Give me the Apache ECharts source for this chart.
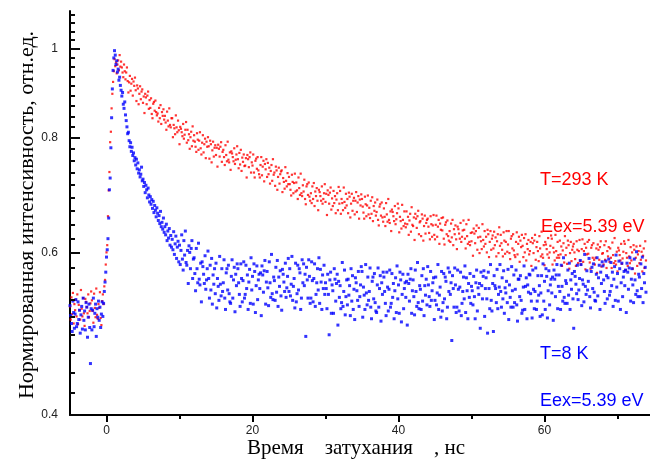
<!DOCTYPE html>
<html>
<head>
<meta charset="utf-8">
<script src="https://cdn.jsdelivr.net/npm/echarts@6/dist/echarts.min.js"></script>
<style>
  html, body { margin: 0; padding: 0; background: #fff; }
  #chart { width: 650px; height: 461px; }
</style>
</head>
<body>
<div id="chart"></div>
<script>
// Sampling grid of the decay curves (ns)
const t0 = -5.0;
const dt = 0.1;

// T = 293 K, normalized intensity (one row per nanosecond)
const redVals = [
  .525,.508,.537,.515,.543,.503,.528,.520,.534,.512,
  .541,.502,.527,.520,.508,.547,.522,.512,.536,.516,
  .500,.535,.531,.524,.516,.541,.511,.519,.529,.545,
  .533,.519,.504,.542,.523,.511,.549,.514,.509,.528,
  .523,.544,.510,.501,.532,.541,.528,.552,.561,.583,
  .601,.612,.658,.702,.735,.792,.813,.862,.894,.921,
  .946,.975,.958,.967,.941,.962,.972,.948,.985,.957,
  .969,.955,.943,.932,.962,.946,.927,.943,.955,.923,
  .897,.920,.935,.901,.917,.928,.890,.922,.912,.931,
  .902,.878,.913,.906,.871,.894,.911,.882,.899,.904,
  .874,.888,.852,.894,.886,.871,.890,.899,.861,.880,
  .863,.884,.850,.841,.872,.876,.857,.879,.854,.847,
  .851,.834,.863,.841,.869,.829,.854,.846,.860,.838,
  .846,.832,.817,.855,.836,.824,.862,.827,.822,.841,
  .841,.802,.827,.820,.808,.847,.822,.812,.836,.816,
  .788,.823,.819,.812,.804,.829,.799,.807,.817,.833,
  .791,.817,.796,.808,.779,.802,.813,.784,.824,.795,
  .806,.793,.783,.773,.810,.797,.777,.795,.812,.780,
  .768,.791,.806,.772,.788,.799,.761,.793,.783,.802,
  .784,.760,.795,.788,.753,.776,.793,.764,.781,.786,
  .767,.781,.745,.787,.779,.764,.783,.792,.754,.773,
  .777,.763,.748,.786,.767,.755,.793,.758,.753,.772,
  .739,.774,.770,.763,.755,.780,.750,.758,.768,.784,
  .759,.742,.771,.749,.777,.737,.762,.754,.768,.746,
  .747,.761,.725,.767,.759,.744,.763,.772,.734,.753,
  .747,.768,.734,.725,.756,.760,.741,.763,.738,.731,
  .725,.748,.763,.729,.745,.756,.718,.750,.740,.759,
  .726,.752,.731,.743,.714,.737,.748,.719,.759,.730,
  .734,.710,.745,.738,.703,.726,.743,.714,.731,.736,
  .738,.699,.724,.717,.705,.744,.719,.709,.733,.713,
  .726,.713,.703,.693,.730,.717,.697,.715,.732,.700,
  .716,.702,.687,.725,.706,.694,.732,.697,.692,.711,
  .700,.721,.687,.678,.709,.713,.694,.716,.691,.684,
  .697,.680,.709,.687,.715,.675,.700,.692,.706,.684,
  .668,.703,.699,.692,.684,.709,.679,.687,.697,.713,
  .682,.696,.660,.702,.694,.679,.698,.707,.669,.688,
  .675,.701,.680,.692,.663,.686,.697,.668,.708,.679,
  .701,.662,.687,.680,.668,.707,.682,.672,.696,.676,
  .687,.663,.698,.691,.656,.679,.696,.667,.684,.689,
  .661,.684,.699,.665,.681,.692,.654,.686,.676,.695,
  .687,.674,.664,.654,.691,.678,.658,.676,.693,.661,
  .672,.655,.684,.662,.690,.650,.675,.667,.681,.659,
  .665,.686,.652,.643,.674,.678,.659,.681,.656,.649,
  .671,.657,.642,.680,.661,.649,.687,.652,.647,.666,
  .634,.669,.665,.658,.650,.675,.645,.653,.663,.679,
  .671,.632,.657,.650,.638,.677,.652,.642,.666,.646,
  .640,.666,.645,.657,.628,.651,.662,.633,.673,.644,
  .642,.656,.620,.662,.654,.639,.658,.667,.629,.648,
  .650,.626,.661,.654,.619,.642,.659,.630,.647,.652,
  .654,.641,.631,.621,.658,.645,.625,.643,.660,.628,
  .621,.644,.659,.625,.641,.652,.614,.646,.636,.655,
  .635,.656,.622,.613,.644,.648,.629,.651,.626,.619,
  .634,.617,.646,.624,.652,.612,.637,.629,.643,.621,
  .606,.641,.637,.630,.622,.647,.617,.625,.635,.651,
  .636,.622,.607,.645,.626,.614,.652,.617,.612,.631,
  .618,.632,.596,.638,.630,.615,.634,.643,.605,.624,
  .639,.600,.625,.618,.606,.645,.620,.610,.634,.614,
  .625,.601,.636,.629,.594,.617,.634,.605,.622,.627,
  .607,.633,.612,.624,.595,.618,.629,.600,.640,.611,
  .628,.615,.605,.595,.632,.619,.599,.617,.634,.602,
  .613,.634,.600,.591,.622,.626,.607,.629,.604,.597,
  .594,.617,.632,.598,.614,.625,.587,.619,.609,.628,
  .611,.594,.623,.601,.629,.589,.614,.606,.620,.598,
  .603,.617,.581,.623,.615,.600,.619,.628,.590,.609,
  .617,.603,.588,.626,.607,.595,.633,.598,.593,.612,
  .582,.617,.613,.606,.598,.623,.593,.601,.611,.627,
  .622,.583,.608,.601,.589,.628,.603,.593,.617,.597,
  .593,.619,.598,.610,.581,.604,.615,.586,.626,.597,
  .608,.584,.619,.612,.577,.600,.617,.588,.605,.610,
  .614,.601,.591,.581,.618,.605,.585,.603,.620,.588,
  .583,.606,.621,.587,.603,.614,.576,.608,.598,.617,
  .599,.620,.586,.577,.608,.612,.593,.615,.590,.583,
  .593,.607,.571,.613,.605,.590,.609,.618,.580,.599,
  .600,.583,.612,.590,.618,.578,.603,.595,.609,.587,
  .607,.593,.578,.616,.597,.585,.623,.588,.583,.602,
  .573,.608,.604,.597,.589,.614,.584,.592,.602,.618,
  .614,.575,.600,.593,.581,.620,.595,.585,.609,.589,
  .601,.577,.612,.605,.570,.593,.610,.581,.598,.603,
  .585,.611,.590,.602,.573,.596,.607,.578,.618,.589
];

// T = 8 K, normalized intensity (one row per nanosecond)
const blueVals = [
  .526,.513,.503,.493,.532,.517,.497,.515,.534,.499,
  .503,.531,.508,.520,.491,.514,.525,.496,.536,.507,
  .519,.495,.530,.524,.486,.511,.528,.498,.455,.522,
  .495,.520,.536,.499,.516,.528,.487,.522,.511,.532,
  .507,.524,.498,.515,.531,.512,.529,.545,.558,.572,
  .594,.605,.622,.655,.703,.724,.781,.842,.905,.948,
  .978,.996,.985,.962,.971,.944,.951,.925,.932,.913,
  .902,.889,.897,.871,.862,.876,.848,.836,.823,.809,
  .812,.795,.783,.791,.774,.782,.766,.771,.756,.762,
  .748,.759,.741,.752,.733,.739,.726,.731,.744,.719,
  .722,.709,.716,.698,.711,.703,.689,.706,.694,.682,
  .691,.678,.686,.671,.683,.664,.676,.668,.657,.672,
  .663,.651,.659,.646,.666,.641,.648,.637,.655,.632,
  .641,.628,.645,.619,.634,.623,.638,.612,.627,.609,
  .621,.605,.633,.598,.614,.626,.592,.609,.618,.587,
  .612,.583,.604,.628,.591,.575,.619,.597,.634,.586,
  .582,.604,.556,.611,.601,.577,.607,.619,.563,.591,
  .593,.570,.546,.607,.577,.557,.615,.562,.554,.585,
  .531,.587,.580,.569,.556,.596,.548,.561,.577,.603,
  .563,.536,.582,.547,.592,.528,.568,.555,.577,.542,
  .585,.523,.563,.552,.533,.595,.555,.539,.577,.545,
  .557,.590,.536,.521,.571,.577,.547,.582,.542,.531,
  .529,.566,.590,.536,.561,.579,.518,.569,.553,.584,
  .577,.557,.541,.525,.584,.563,.531,.560,.587,.536,
  .541,.582,.549,.568,.521,.558,.576,.529,.593,.547,
  .566,.528,.584,.573,.517,.553,.581,.534,.561,.569,
  .549,.571,.513,.581,.568,.544,.574,.589,.528,.558,
  .573,.550,.526,.587,.557,.537,.598,.542,.534,.565,
  .560,.533,.579,.544,.589,.525,.565,.552,.574,.539,
  .520,.576,.569,.558,.545,.585,.537,.550,.566,.592,
  .545,.577,.539,.555,.595,.533,.552,.563,.523,.585,
  .531,.542,.582,.547,.577,.571,.521,.536,.590,.557,
  .584,.553,.569,.487,.579,.561,.536,.590,.566,.529,
  .536,.587,.560,.531,.563,.584,.525,.541,.557,.577,
  .547,.593,.529,.576,.558,.521,.568,.549,.582,.541,
  .557,.549,.522,.569,.541,.489,.561,.572,.516,.554,
  .546,.516,.577,.562,.532,.556,.569,.501,.559,.537,
  .553,.522,.530,.586,.525,.545,.575,.514,.538,.561,
  .527,.562,.540,.553,.513,.577,.532,.567,.521,.548,
  .508,.564,.557,.546,.533,.573,.525,.538,.554,.580,
  .573,.511,.551,.540,.521,.583,.543,.527,.565,.533,
  .545,.578,.524,.509,.559,.565,.535,.570,.530,.519,
  .517,.554,.578,.524,.549,.567,.506,.557,.541,.572,
  .565,.545,.529,.513,.572,.551,.519,.548,.575,.524,
  .529,.570,.537,.556,.509,.546,.564,.517,.581,.535,
  .554,.516,.572,.561,.505,.541,.569,.522,.549,.557,
  .537,.559,.501,.569,.556,.532,.562,.577,.516,.546,
  .561,.538,.514,.575,.545,.525,.586,.530,.522,.553,
  .548,.521,.567,.532,.577,.513,.553,.540,.562,.527,
  .580,.554,.538,.525,.573,.533,.546,.557,.564,.508,
  .533,.565,.527,.543,.583,.521,.540,.551,.511,.573,
  .519,.530,.570,.535,.565,.559,.509,.524,.578,.545,
  .572,.541,.557,.482,.567,.549,.524,.578,.554,.517,
  .524,.575,.548,.519,.551,.572,.513,.529,.545,.565,
  .535,.581,.517,.564,.546,.509,.556,.537,.570,.529,
  .552,.546,.527,.566,.538,.509,.557,.575,.519,.550,
  .541,.556,.497,.572,.553,.535,.566,.574,.512,.549,
  .564,.535,.491,.572,.549,.522,.583,.533,.519,.556,
  .493,.567,.553,.549,.530,.576,.522,.541,.551,.583,
  .545,.524,.564,.535,.574,.516,.550,.543,.559,.530,
  .576,.508,.554,.537,.524,.580,.546,.524,.568,.530,
  .548,.575,.527,.506,.562,.562,.538,.567,.533,.516,
  .520,.551,.581,.521,.552,.564,.509,.554,.544,.569,
  .568,.542,.532,.510,.575,.548,.522,.545,.578,.521,
  .532,.567,.540,.553,.512,.543,.567,.514,.584,.532,
  .559,.521,.577,.566,.510,.546,.574,.527,.554,.562,
  .543,.565,.507,.575,.562,.538,.568,.583,.522,.552,
  .568,.545,.521,.582,.552,.532,.593,.537,.529,.560,
  .556,.529,.575,.540,.585,.521,.561,.548,.570,.535,
  .497,.573,.566,.555,.542,.582,.534,.547,.563,.589,
  .583,.526,.561,.555,.531,.598,.552,.541,.574,.547,
  .559,.592,.538,.523,.573,.579,.549,.584,.544,.533,
  .532,.569,.593,.539,.564,.582,.521,.572,.556,.587,
  .581,.561,.545,.529,.588,.567,.535,.564,.591,.540,
  .545,.586,.553,.572,.525,.562,.580,.533,.597,.551,
  .570,.532,.588,.577,.521,.557,.585,.538,.565,.573,
  .553,.575,.517,.585,.572,.548,.578,.593,.532,.562,
  .577,.554,.530,.591,.561,.541,.602,.546,.538,.569,
  .565,.538,.584,.549,.594,.530,.570,.557,.579,.544
];

// Axis ticks and labels
const xMajor = [0, 20, 40, 60];
const xMinor = [10, 30, 50, 70];
const yMajor = [0.4, 0.6, 0.8, 1];
const yLabels = ['0.4', '0.6', '0.8', '1'];
const xRange = [-5, 75];
const yRange = [0.4, 1.1];
const xTitle = 'Время    затухания    , нс';
const yTitle = 'Нормированная интенсивность, отн.ед.';

// Minor y ticks: eight evenly spaced values inside each 0.2 step
const yMinor = [];
for (let j = 0; j < 4; j++) {
  for (let k = 1; k <= 8; k++) {
    const m = 0.4 + 0.2 * j + (0.2 / 9) * k;
    if (m < yRange[1]) yMinor.push(m);
  }
}

// Tick table for the y axis: [axis start, value, tick length]
const yTickRows = [
  ...yMajor.map(v => [xRange[0], v, 10]),
  ...yMinor.map(v => [xRange[0], v, 5])
];

const toPairs = vals => vals.map((v, i) => [+(t0 + i * dt).toFixed(2), v]);

const axisBlack = { color: '#000', width: 2 };
const labelFont = { fontFamily: 'Liberation Sans', fontSize: 12, color: '#222' };

// Draws each y tick as a short inward stroke at the log-scaled position
function renderYTick(params, api) {
  const p = api.coord([api.value(0), api.value(1)]);
  const y = Math.round(p[1]);
  return {
    type: 'line',
    shape: { x1: p[0], y1: y, x2: p[0] + api.value(2), y2: y },
    style: { stroke: '#0a0a0a', lineWidth: 2 }
  };
}

const chart = echarts.init(document.getElementById('chart'), null, { renderer: 'canvas' });
chart.setOption({
  animation: false,
  backgroundColor: '#fff',
  grid: { left: 70, top: 11, width: 584, height: 404, containLabel: false, outerBoundsMode: 'none' },
  xAxis: [
    {
      type: 'value', min: xRange[0], max: xRange[1], position: 'bottom',
      axisLine: { onZero: false, lineStyle: axisBlack },
      axisTick: { customValues: xMajor, length: 7, lineStyle: axisBlack },
      axisLabel: { customValues: xMajor, margin: 10, ...labelFont },
      splitLine: { show: false }
    },
    {
      type: 'value', min: xRange[0], max: xRange[1], position: 'top', offset: -404,
      axisLine: { show: false, onZero: false },
      axisTick: { customValues: xMinor, length: 4, inside: true, lineStyle: axisBlack },
      axisLabel: { show: false },
      splitLine: { show: false }
    }
  ],
  yAxis: [
    {
      type: 'log', min: yRange[0], max: yRange[1], position: 'left',
      axisLine: { onZero: false, lineStyle: axisBlack },
      axisTick: { show: false },
      axisLabel: {
        customValues: yMajor, margin: 12, ...labelFont,
        formatter: v => yLabels[yMajor.findIndex(m => Math.abs(m - v) < 1e-6)] ?? ''
      },
      splitLine: { show: false }
    }
  ],
  series: [
    {
      name: 'T=293 K', type: 'scatter', xAxisIndex: 0, yAxisIndex: 0,
      symbol: 'rect', symbolSize: 2.2,
      itemStyle: { color: '#ff0000' },
      data: toPairs(redVals)
    },
    {
      name: 'T=8 K', type: 'scatter', xAxisIndex: 0, yAxisIndex: 0,
      symbol: 'rect', symbolSize: 3,
      itemStyle: { color: '#0000ff' },
      data: toPairs(blueVals)
    },
    {
      name: 'y ticks', type: 'custom', xAxisIndex: 0, yAxisIndex: 0,
      renderItem: renderYTick, clip: false, silent: true, z: 10,
      encode: { x: 0, y: 1 },
      data: yTickRows
    }
  ],
  graphic: [
    { type: 'text', x: 27.5, y: 215, rotation: Math.PI / 2,
      style: { text: yTitle, fill: '#000', font: '22px "Liberation Serif"', align: 'center', verticalAlign: 'middle' } },
    { type: 'text', x: 356, y: 448,
      style: { text: xTitle, fill: '#000', font: '21px "Liberation Serif"', align: 'center', verticalAlign: 'middle' } },
    { type: 'text', left: 540, top: 171, style: { text: 'T=293 K', fill: '#ff0000', font: '18px "Liberation Sans"' } },
    { type: 'text', left: 541, top: 218, style: { text: 'Eex=5.39 eV', fill: '#ff0000', font: '18px "Liberation Sans"' } },
    { type: 'text', left: 540, top: 345, style: { text: 'T=8 K', fill: '#0000ff', font: '18px "Liberation Sans"' } },
    { type: 'text', left: 540, top: 392, style: { text: 'Eex=5.39 eV', fill: '#0000ff', font: '18px "Liberation Sans"' } }
  ]
});
</script>
</body>
</html>
